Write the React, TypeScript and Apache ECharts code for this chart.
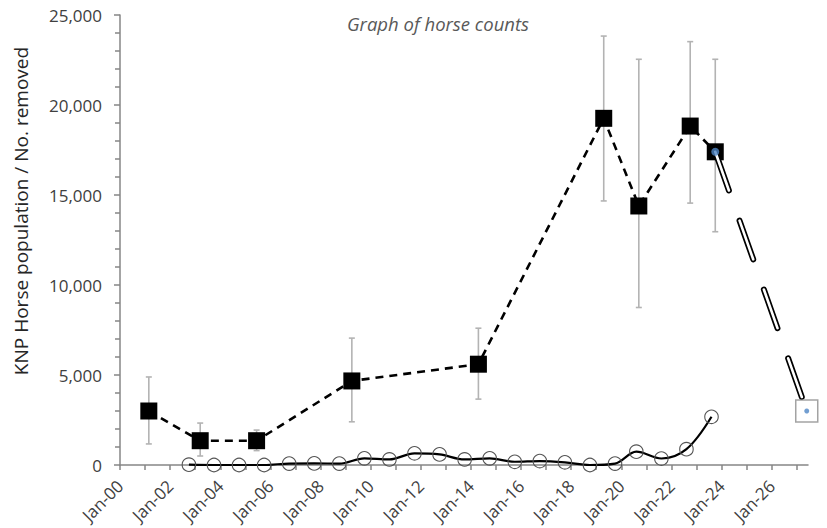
import React, { useEffect, useRef } from 'react';
import * as echarts from 'echarts';

// Population estimates (black squares, dashed line) with error bars
const popYears = [2001.15, 2003.2, 2005.45, 2009.25, 2014.3, 2019.3, 2020.7, 2022.75, 2023.75];
const popValues = [3000, 1350, 1350, 4670, 5600, 19260, 14390, 18830, 17400];
const popLow = [1170, 500, 800, 2400, 3660, 14670, 8750, 14550, 12960];
const popHigh = [4890, 2330, 1940, 7050, 7600, 23830, 22540, 23520, 22540];

// Horses removed (open circles, solid smoothed line)
const removedYears = [
  2002.75, 2003.75, 2004.75, 2005.75, 2006.75, 2007.75, 2008.75, 2009.75, 2010.75, 2011.75, 2012.75,
  2013.75, 2014.75, 2015.75, 2016.75, 2017.75, 2018.75, 2019.75, 2020.6, 2021.6, 2022.6, 2023.6,
];
const removedValues = [
  20, 0, 0, 0, 80, 90, 80, 370, 310, 650, 590, 310, 370, 180, 220, 150, 0, 80, 740, 360, 880, 2680,
];

// Projection to target
const projectionYears = [2023.75, 2027.4];
const projectionValues = [17400, 3000];

// Axis ticks
const xTickYears = [
  2000, 2001, 2002, 2003, 2004, 2005, 2006, 2007, 2008, 2009, 2010, 2011, 2012, 2013,
  2014, 2015, 2016, 2017, 2018, 2019, 2020, 2021, 2022, 2023, 2024, 2025, 2026, 2027,
];
const xLabelYears = [2000, 2002, 2004, 2006, 2008, 2010, 2012, 2014, 2016, 2018, 2020, 2022, 2024, 2026];
const yMin = 0;
const yMax = 25000;
const yInterval = 5000;

const titleText = 'Graph of horse counts';
const yAxisTitle = 'KNP Horse population / No. removed';

const FONT = '"Open Sans", "Liberation Sans", sans-serif';

export default function App() {
  const ref = useRef<HTMLDivElement>(null);

  useEffect(() => {
    if (!ref.current) return;
    const chart = echarts.init(ref.current, null, { renderer: 'svg' });

    const popData = popYears.map((x, i) => [x, popValues[i]]);
    const errData = popYears.map((x, i) => [x, popLow[i], popHigh[i]]);
    const remData = removedYears.map((x, i) => [x, removedValues[i]]);
    const projData = projectionYears.map((x, i) => [x, projectionValues[i]]);

    const option: any = {
      animation: false,
      backgroundColor: '#ffffff',
      title: {
        text: titleText,
        left: 347,
        top: 14,
        padding: 0,
        textStyle: {
          fontFamily: FONT,
          fontStyle: 'italic',
          fontWeight: 'normal',
          fontSize: 18.5,
          color: '#595959',
        },
      },
      graphic: [
        {
          type: 'text',
          x: 21,
          y: 211,
          rotation: Math.PI / 2,
          style: {
            text: yAxisTitle,
            fontFamily: FONT,
            fontSize: 19,
            fill: '#262626',
            align: 'center',
            verticalAlign: 'middle',
          },
        },
      ],
      grid: { left: 120, right: 19, top: 15, bottom: 63 },
      xAxis: {
        type: 'value',
        min: 2000,
        max: 2027.45,
        splitLine: { show: false },
        axisLine: { show: true, lineStyle: { color: '#868686', width: 1.5 } },
        axisTick: {
          show: true,
          inside: false,
          length: 5,
          customValues: xTickYears,
          lineStyle: { color: '#868686', width: 1.5 },
        },
        axisLabel: {
          customValues: xLabelYears,
          rotate: 45,
          margin: 18,
          fontFamily: FONT,
          fontSize: 17,
          color: '#404040',
          formatter: (v: number) => 'Jan-' + String(Math.round(v) % 100).padStart(2, '0'),
        },
      },
      yAxis: {
        type: 'value',
        min: yMin,
        max: yMax,
        interval: yInterval,
        splitLine: { show: false },
        axisLine: { show: true, lineStyle: { color: '#868686', width: 1.5 } },
        axisTick: { show: true, inside: false, length: 6, lineStyle: { color: '#868686', width: 1.5 } },
        minorTick: { show: true, splitNumber: 5, length: 5, lineStyle: { color: '#868686', width: 1.5 } },
        axisLabel: {
          margin: 18,
          fontFamily: FONT,
          fontSize: 17,
          color: '#404040',
          formatter: (v: number) => v.toLocaleString('en-US'),
        },
      },
      series: [
        {
          type: 'custom',
          name: 'error',
          z: 1,
          clip: false,
          data: errData,
          encode: { x: 0, y: [1, 2] },
          renderItem: (params: any, api: any) => {
            const x = api.value(0);
            const lo = api.coord([x, api.value(1)]);
            const hi = api.coord([x, api.value(2)]);
            const w = 3;
            const st = { stroke: '#b3b3b3', lineWidth: 1.6 };
            return {
              type: 'group',
              children: [
                { type: 'line', shape: { x1: lo[0], y1: lo[1], x2: hi[0], y2: hi[1] }, style: st },
                { type: 'line', shape: { x1: lo[0] - w, y1: lo[1], x2: lo[0] + w, y2: lo[1] }, style: st },
                { type: 'line', shape: { x1: hi[0] - w, y1: hi[1], x2: hi[0] + w, y2: hi[1] }, style: st },
              ],
            };
          },
        },
        {
          type: 'line',
          name: 'population',
          z: 2,
          data: popData,
          symbol: 'rect',
          symbolSize: 17,
          showAllSymbol: true,
          itemStyle: { color: '#000000' },
          lineStyle: { color: '#000000', width: 2.6, type: [8, 6] },
        },
        {
          type: 'line',
          name: 'removed',
          z: 2,
          data: remData,
          smooth: 0.35,
          symbol: 'circle',
          symbolSize: 13.5,
          showAllSymbol: true,
          itemStyle: { color: 'rgba(255,255,255,0)', borderColor: '#555555', borderWidth: 1.1 },
          lineStyle: { color: '#000000', width: 2.2 },
        },
        {
          type: 'line',
          name: 'projection-outline',
          z: 3,
          data: projData,
          symbol: 'none',
          lineStyle: { color: '#000000', width: 6, type: [41, 32], cap: 'round' },
        },
        {
          type: 'line',
          name: 'projection-inner',
          z: 4,
          data: projData,
          symbol: 'none',
          lineStyle: { color: '#ffffff', width: 2.6, type: [41, 32], cap: 'round' },
        },
        {
          type: 'scatter',
          name: 'target-box',
          z: 5,
          data: [projData[1]],
          symbol: 'rect',
          symbolSize: 22,
          itemStyle: { color: '#ffffff', borderColor: '#8c8c8c', borderWidth: 1.5 },
        },
        {
          type: 'scatter',
          name: 'projection-dots',
          z: 6,
          data: [
            { value: projData[0], symbolSize: 8 },
            { value: projData[1], symbolSize: 5 },
          ],
          symbol: 'circle',
          itemStyle: { color: '#4f86c6' },
        },
      ],
    };

    chart.setOption(option);
    return () => chart.dispose();
  }, []);

  return (
    <div
      ref={ref}
      style={{ position: 'absolute', left: 0, top: 0, width: 827, height: 528 }}
    />
  );
}
